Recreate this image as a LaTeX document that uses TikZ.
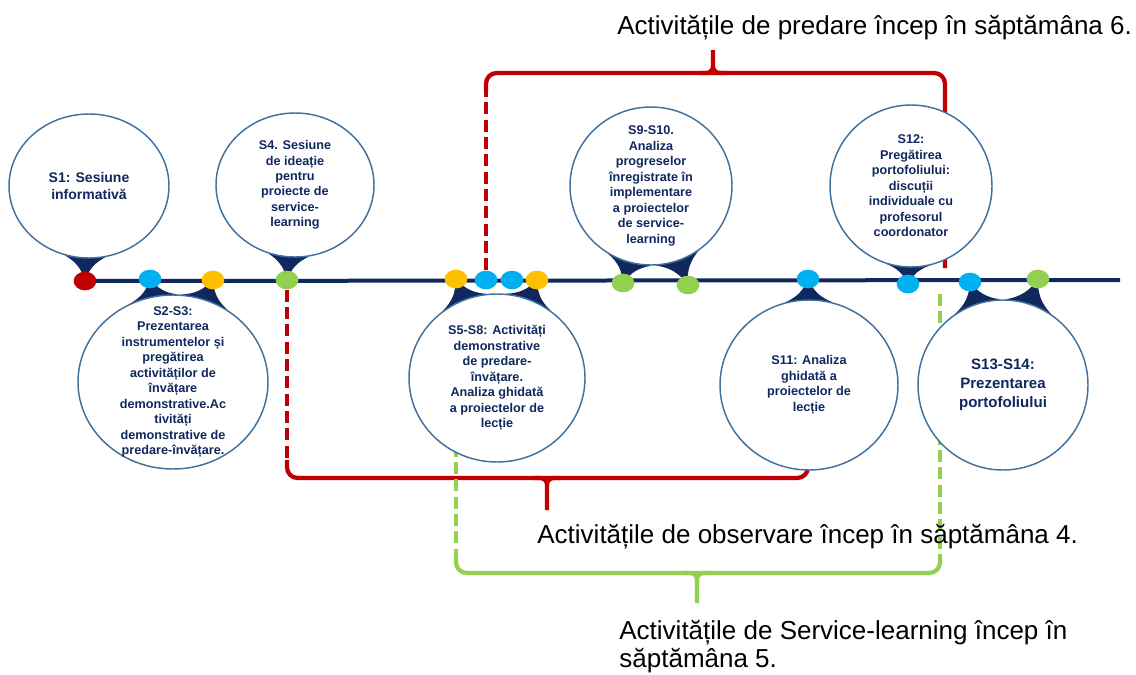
\documentclass[tikz,border=0pt]{standalone}
\usepackage{fontspec}
\setmainfont{Liberation Sans}
\usepackage{tikz}
\usetikzlibrary{shapes.geometric, backgrounds}

\definecolor{navy}{RGB}{16,40,94}
\definecolor{rim}{RGB}{65,113,156}
\definecolor{dred}{RGB}{192,0,0}
\definecolor{dblue}{RGB}{0,176,240}
\definecolor{dyellow}{RGB}{255,192,0}
\definecolor{dgreen}{RGB}{146,208,80}

\begin{document}
\begin{tikzpicture}[
            x = 0.75pt, y = -0.75pt, % one unit per pixel, y grows downward
            line join = round,
            semithick % line style
        ]

        \tikzstyle{bubble}=[
            ellipse,
            draw = rim,
            line width = 1.1pt,
            fill = white,
            inner sep = 0pt
        ]
        \tikzstyle{bubtext}=[text = navy, align = center, font = \bfseries\fontsize{9.5}{11.6}\selectfont]
        \tikzstyle{week}=[ellipse, minimum width = 17pt, minimum height = 14pt, inner sep = 0pt]
        \tikzstyle{tail}=[fill = navy]
        \tikzstyle{brace}=[line width = 3.2pt, rounded corners = 8pt]
        \tikzstyle{stem}=[line width = 3.2pt, rounded corners = 5pt]
        \tikzstyle{leg}=[line width = 3.2pt, dash pattern = on 9pt off 4pt]
        \tikzstyle{note}=[anchor = west, align = left, inner sep = 0pt, font = \fontsize{19.5}{21}\selectfont]

        \useasboundingbox (0,0) rectangle (1136,675);

        % weeks on the timeline
        \foreach \n/\x/\y/\c in {1/85/281/dred, 2/150/279/dblue, 3/213/280/dyellow, 4/287/280/dgreen,
                5/456/279/dyellow, 6/486/280/dblue, 7/512/280/dblue, 8/537/280/dyellow,
                9/623/283/dgreen, 10/688/285/dgreen, 11/808/279/dblue, 12/908/284/dblue,
                13/970/282/dblue, 14/1038/279/dgreen}
            \node[week, fill = \c] (d\n) at (\x,\y) {};

        % bubbles
        \node[bubble, minimum width = 120pt, minimum height = 108pt] (s1) at (89,186) {};
        \node[bubble, minimum width = 118.5pt, minimum height = 108pt] (s4) at (295,185) {};
        \node[bubble, minimum width = 142.5pt, minimum height = 130.5pt] (s23) at (173,382) {};
        \node[bubble, minimum width = 132pt, minimum height = 126pt] (s58) at (497,378) {};
        \node[bubble, minimum width = 121.5pt, minimum height = 118.5pt] (s910) at (651,186) {};
        \node[bubble, minimum width = 133.5pt, minimum height = 127.5pt] (s11) at (809,385) {};
        \node[bubble, minimum width = 121.5pt, minimum height = 121.5pt] (s12) at (911,186) {};
        \node[bubble, minimum width = 127.5pt, minimum height = 127.5pt] (s1314) at (1003,385) {};

        \node[bubtext, font = \bfseries\fontsize{10.5}{12.7}\selectfont] (t1) at (s1) {S1: Sesiune\\informativă};
        \node[bubtext] (t4) at (s4) {S4. Sesiune\\de ideație\\pentru\\proiecte de\\service-\\learning};
        \node[bubtext] (t23) at (s23) {S2-S3:\\Prezentarea\\instrumentelor și\\pregătirea\\activităților de\\învățare\\demonstrative.Ac\\tivități\\demonstrative de\\predare-învățare.};
        \node[bubtext] (t58) at (s58) {S5-S8: Activități\\demonstrative\\de predare-\\învățare.\\Analiza ghidată\\a proiectelor de\\lecție};
        \node[bubtext] (t910) at (s910) {S9-S10.\\Analiza\\progreselor\\înregistrate în\\implementare\\a proiectelor\\de service-\\learning};
        \node[bubtext] (t11) at (s11) {S11: Analiza\\ghidată a\\proiectelor de\\lecție};
        \node[bubtext] (t12) at (s12) {S12:\\Pregătirea\\portofoliului:\\discuții\\individuale cu\\profesorul\\coordonator};
        \node[bubtext, font = \bfseries\fontsize{11.3}{14.2}\selectfont] (t1314) at (s1314) {S13-S14:\\Prezentarea\\portofoliului};

        % notes
        \node[note] (np) at (617,28) {Activitățile de predare încep în săptămâna 6.};
        \node[note] (no) at (537,537) {Activitățile de observare încep în săptămâna 4.};
        \node[note] (ns) at (619,647) {Activitățile de Service-learning încep în\\săptămâna 5.};

        \begin{scope}[on background layer]
            \coordinate (end) at (1120,280);
            \draw[navy, line width = 3pt] (d1.center) -- (end);

            % teaching, from week 6
            \coordinate (rtL) at (486,92);
            \coordinate (rtTip) at (713,50);
            \draw[leg, dred] (d6.north) -- (rtL);
            \draw[brace, dred] (rtL) -- (486,73) -- (945,73) -- (945,268);
            \draw[stem, dred] (700,73) -- (713,73) -- (rtTip) (726,73) -- (713,73) -- (rtTip);

            % observation, from week 4
            \coordinate (roL) at (287,460);
            \coordinate (roTip) at (547,510);
            \draw[leg, dred] (d4.south) -- (roL);
            \draw[brace, dred] (roL) -- (287,478) -- (808,478) -- (d11.south);
            \draw[stem, dred] (534,478) -- (547,478) -- (roTip) (560,478) -- (547,478) -- (roTip);

            % service-learning, from week 5
            \coordinate (glL) at (456,555);
            \coordinate (glR) at (940,555);
            \coordinate (glTop) at (940,294);
            \coordinate (glTip) at (697,603);
            \draw[leg, dgreen] (d5.south) -- (glL);
            \draw[leg, dgreen] (glTop) -- (glR);
            \draw[brace, dgreen] (glL) -- (456,573) -- (940,573) -- (glR);
            \draw[stem, dgreen] (684,573) -- (697,573) -- (glTip) (710,573) -- (697,573) -- (glTip);

            % bubble tails
            \foreach \b/\d/\a [evaluate = \a as \lo using int(\a-16), evaluate = \a as \hi using int(\a+16)]
                    in {s1/d1/267, s4/d4/265, s23/d2/103, s23/d3/69, s58/d5/113, s58/d8/68,
                        s910/d9/254, s910/d10/290, s11/d11/90, s12/d12/268, s1314/d13/108, s1314/d14/72}
                \fill[tail] (\b.\lo) to[bend left = 22] (\d.center) to[bend left = 22] (\b.\hi) -- cycle;
        \end{scope}

  \end{tikzpicture}
\end{document}
